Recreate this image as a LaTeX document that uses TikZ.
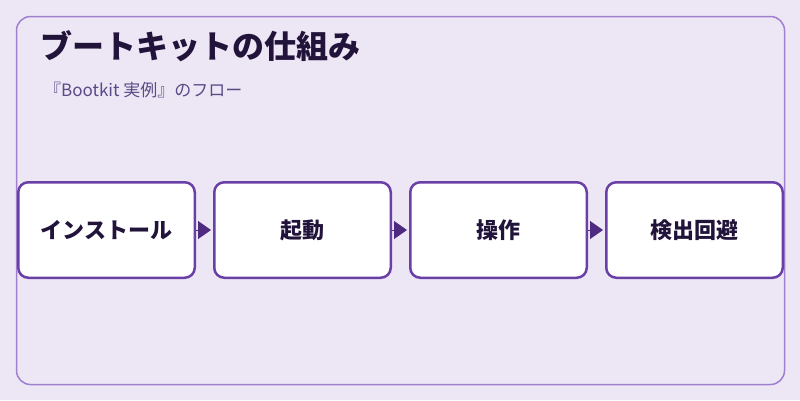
\documentclass[tikz,border=0pt]{standalone}
\usepackage{fontspec}
\setmainfont{Noto Sans CJK JP}
\usetikzlibrary{positioning,arrows.meta}
\definecolor{bgcol}{HTML}{EDE6F5}
\definecolor{framecol}{HTML}{9E80CF}
\definecolor{boxline}{HTML}{6A40A6}
\definecolor{tipcol}{HTML}{4E2A80}
\definecolor{titlecol}{HTML}{21133A}
\definecolor{subcol}{HTML}{5A4A86}
\tikzset{
  stage/.style={draw=boxline, line width=2.5pt, fill=white, rounded corners=10pt,
    minimum width=176.5pt, minimum height=95.5pt, font=\fontsize{22pt}{26pt}\selectfont\bfseries,
    text=titlecol},
  flow/.style={-{Triangle[length=13pt,width=18pt]}, tipcol, line width=1pt, shorten >=2pt}
}

\begin{document}
\begin{tikzpicture}[x=1pt,y=-1pt]
    \fill[bgcol] (0,0) rectangle (800,400);
    \useasboundingbox (0,0) rectangle (800,400);
    \draw[framecol, line width=1.5pt, rounded corners=14pt] (16.5,16.5) rectangle (784.5,384.5);
    \node[anchor=base west, text=titlecol, font=\fontsize{32pt}{38pt}\selectfont\bfseries, inner sep=0pt] (title) at (40,58) {ブートキットの仕組み};
    \node[anchor=base west, text=subcol, font=\fontsize{17pt}{21pt}\selectfont, inner sep=0pt] (sub) at (44,96) {『Bootkit 実例』のフロー};
    % stages
    \node[stage] (install) at (106.5,230) {インストール};
    \node[stage, right=17pt of install] (boot) {起動};
    \node[stage, right=17pt of boot] (ctrl) {操作};
    \node[stage, right=17pt of ctrl] (evade) {検出回避};
    \draw[flow] (install) -- (boot);
    \draw[flow] (boot) -- (ctrl);
    \draw[flow] (ctrl) -- (evade);
\end{tikzpicture}
\end{document}
